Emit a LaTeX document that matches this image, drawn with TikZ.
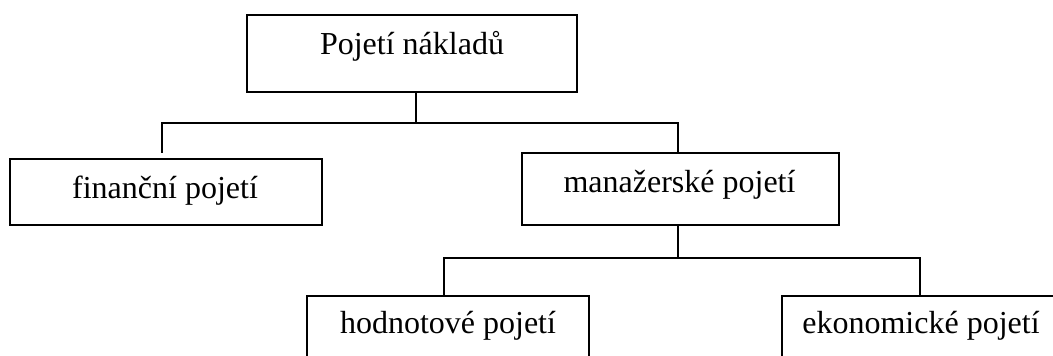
\documentclass[tikz,border=0pt]{standalone}
\usepackage{fontspec}
\setmainfont{Liberation Serif}
\begin{document}
\begin{tikzpicture}[x=0.5pt,y=-0.5pt,
  box/.style={draw, line width=1pt, inner sep=0pt},
  lbl/.style={anchor=base, font=\fontsize{16}{19}\selectfont, inner sep=0pt},
  conn/.style={line width=1pt}]
\useasboundingbox (0,0) rectangle (1053,356);
\clip (0,0) rectangle (1053,356);
% boxes
\node[box, minimum width=165pt, minimum height=38.5pt] (top) at (412,53.5) {};
\node[box, minimum width=156pt, minimum height=33pt] (fin) at (166,192) {};
\node[box, minimum width=158.5pt, minimum height=36pt] (man) at (680.5,189) {};
\node[box, minimum width=141pt, minimum height=36pt] (hod) at (448,332) {};
\node[box, minimum width=141pt, minimum height=36pt] (eko) at (923,332) {};
% labels
\node[lbl] (topt) at (412,55) {Pojetí nákladů};
\node[lbl] (fint) at (165,199) {finanční pojetí};
\node[lbl] (mant) at (679.5,193) {manažerské pojetí};
\node[lbl] (hodt) at (448,334) {hodnotové pojetí};
\node[lbl] (ekot) at (921,334) {ekonomické pojetí};
% connectors
\coordinate (j1) at (416,123);
\coordinate (j2) at (678,123);
\coordinate (f1) at (162,153);
\draw[conn] (j1 |- top.south) -- (j1);
\draw[conn] (f1) |- (j1) -- (j2) -- (j2 |- man.north);
\coordinate (j3) at (678,258);
\coordinate (h1) at (444,258);
\coordinate (e1) at (920,258);
\draw[conn] (j3 |- man.south) -- (j3);
\draw[conn] (h1 |- hod.north) -- (h1) -- (e1) -- (e1 |- eko.north);
\end{tikzpicture}
\end{document}
